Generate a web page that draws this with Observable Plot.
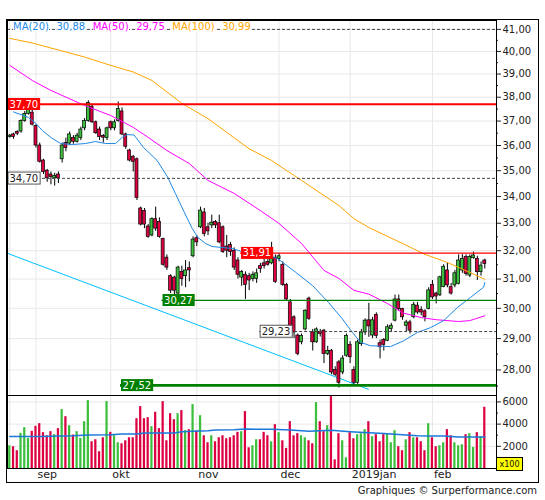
<!DOCTYPE html>
<html>
<head>
<meta charset="utf-8">
<script src="https://cdn.jsdelivr.net/npm/d3@7"></script>
<script src="https://cdn.jsdelivr.net/npm/@observablehq/plot@0.6"></script>
<style>
  html, body { margin: 0; padding: 0; background: #fff; }
  #chart { position: relative; width: 545px; height: 500px; overflow: hidden; background: #fff; font-family: "DejaVu Sans", sans-serif; }
  #chart > svg { position: absolute; left: 0; }
  #frame { position: absolute; left: 6px; top: 19px; width: 533px; height: 464px; border: 1px solid #000; box-sizing: border-box; pointer-events: none; }
  #legend { position: absolute; left: 13px; top: 21px; font-size: 10px; line-height: 12px; white-space: nowrap; }
  #legend span { background: #fff; margin-right: 7.5px; }
  #unit { position: absolute; left: 496px; top: 457px; width: 27px; height: 14px; box-sizing: border-box; background: #ffff00; border: 1px solid #000; font-family: "DejaVu Sans Condensed", "DejaVu Sans", sans-serif; font-size: 9px; line-height: 12px; text-align: center; color: #111; }
  #credit { position: absolute; right: 8px; top: 485px; font-size: 10px; line-height: 12px; color: #222; white-space: nowrap; }
</style>
</head>
<body>
<div id="chart"><div id="frame"></div></div>
<script>
// ---------- data ----------
const open = [
36.35,36.45,36.55,36.57,37.0,37.3,37.35,36.8,36.0,35.4,
35.0,34.85,34.7,34.85,35.45,36.1,36.08,36.3,36.15,36.3,
36.7,37.0,37.6,36.95,36.65,36.38,36.3,36.95,36.7,37.0,
37.4,36.45,35.8,35.55,35.45,33.55,33.45,32.88,32.55,33.15,
33.05,32.42,31.75,31.1,31.05,30.5,31.25,31.1,31.38,31.8,
32.45,32.85,33.4,32.85,32.92,33.05,33.0,32.85,32.15,32.2,
32.0,31.65,31.05,31.15,31.1,31.0,31.0,31.45,31.55,31.6,
31.55,31.75,31.7,31.5,30.8,30.2,29.7,29.1,28.88,29.3,
30.33,29.2,28.88,29.22,29.26,28.5,28.61,28.0,28.24,27.92,
28.45,28.8,28.0,27.6,28.82,29.2,29.6,29.1,29.78,28.85,
28.95,28.93,29.31,29.59,30.3,29.98,29.42,29.53,29.7,30.09,
29.95,29.9,29.98,30.8,30.5,30.44,30.72,31.3,30.72,30.78,
30.83,31.3,31.77,31.12,31.73,31.71,31.24,31.65];
const close = [
36.40,36.35,36.48,37.0,37.3,37.5,36.85,36.0,35.35,34.95,
34.7,34.75,34.8,34.7,36.0,35.9,36.45,36.15,36.4,36.65,
37.0,37.75,36.95,36.5,36.35,36.32,36.7,36.7,36.95,37.5,
36.45,35.95,35.4,35.35,33.95,32.95,32.95,32.5,33.15,32.8,
32.5,31.5,31.4,30.6,30.6,31.4,31.0,31.3,31.3,32.4,
32.3,33.47,32.6,32.7,33.02,32.92,32.3,31.95,32.0,31.95,
31.4,31.15,31.25,30.8,30.95,31.15,31.2,31.35,31.45,31.5,
31.7,30.9,31.8,30.8,30.3,29.25,29.2,28.5,29.09,29.92,
29.65,28.88,29.3,29.15,28.5,28.6,27.92,27.85,27.6,28.36,
29.09,28.4,27.6,28.88,29.2,29.59,29.4,29.6,29.09,28.72,
28.8,29.37,29.42,30.3,29.98,29.7,29.53,29.26,30.12,29.86,
29.86,29.7,30.61,30.37,30.4,31.06,31.43,30.78,30.5,31.2,
31.65,31.71,31.18,31.77,31.83,31.24,31.47,31.53];
const high = [
36.45,36.5,36.6,37.05,37.4,37.65,37.5,36.85,36.1,35.45,
35.05,34.95,34.9,34.95,36.1,36.3,36.55,36.4,36.5,36.75,
37.1,37.85,37.7,37.0,36.75,36.45,36.75,37.0,37.05,37.8,
37.55,36.5,35.85,35.6,35.5,33.6,33.55,32.95,33.2,33.6,
33.2,32.45,31.85,31.15,31.1,31.45,31.45,31.65,31.6,32.5,
32.55,33.6,33.55,33.0,33.3,33.1,33.3,32.9,32.55,32.3,
32.1,31.75,31.3,31.25,31.2,31.25,31.35,31.55,31.7,31.95,
32.3,31.85,31.9,31.6,30.85,30.3,29.75,29.15,29.15,29.95,
30.38,29.3,29.35,29.3,29.3,28.75,28.65,28.1,28.3,28.45,
29.15,28.9,28.1,28.95,29.3,29.65,30.17,29.7,29.85,28.95,
29.0,29.45,29.5,30.45,30.45,30.0,29.6,29.6,30.2,30.2,
30.05,29.95,30.7,30.95,30.55,31.1,31.5,31.55,30.85,31.3,
31.85,31.86,31.85,31.85,31.95,31.8,31.6,31.7];
const low = [
36.3,36.25,36.4,36.5,36.95,37.25,36.8,35.9,35.3,34.85,
34.55,34.45,34.4,34.5,35.3,35.75,36.0,36.05,36.1,36.2,
36.6,36.95,36.9,36.45,36.2,36.1,36.2,36.6,36.6,36.95,
36.4,35.85,35.35,34.95,33.85,32.9,32.8,32.45,32.5,32.7,
32.45,31.45,31.3,30.5,30.35,30.45,30.75,30.7,30.9,31.75,
32.15,32.8,32.5,32.55,32.8,32.8,32.25,31.9,31.75,31.8,
31.3,31.0,30.75,30.3,30.6,30.9,30.85,31.2,31.35,31.45,
31.5,30.85,31.6,30.75,30.25,29.2,29.0,28.45,28.8,29.25,
29.6,28.6,28.85,29.05,28.2,28.45,27.85,27.8,27.44,27.85,
28.4,28.2,27.55,27.55,28.75,29.1,29.04,29.0,29.0,28.35,
28.6,28.9,29.2,29.55,29.9,29.6,29.2,29.15,29.65,29.8,
29.75,29.55,29.95,30.3,30.15,30.4,30.7,30.7,30.45,30.7,
30.8,31.2,31.1,31.05,31.7,30.95,31.1,31.35];
const volume = [
2050,1960,1600,3170,3680,2710,3350,3800,4040,3230,
2950,3320,3050,3590,5310,4670,3860,3020,3320,2710,
4220,6120,2410,2590,1510,2770,6030,3260,2950,2320,
2230,2500,2770,2770,4490,5580,4490,4580,3770,5070,
3590,6030,2500,4940,4400,4940,5220,3410,3500,5760,
3380,4760,2950,2320,2950,2410,2770,2950,2680,2770,
2950,3260,3320,5130,1870,2050,2590,2590,3260,2950,
2410,3950,3230,2500,1810,4220,2950,3140,2950,2770,
2500,2230,5940,4220,3320,3860,6480,780,3140,2500,
960,3230,2680,3050,3140,3500,4220,2860,3050,2410,
3050,3140,2320,3410,1960,1600,2590,3230,2770,2770,
2410,1600,4040,2770,1960,2050,2320,3500,2950,2320,
2050,2140,3050,3140,1900,3230,2860,5520];

// moving averages: [trading-day index, value]
const ma20 = [[1,37.38],[5,37.15],[7,36.90],[8.7,36.61],[11.3,36.29],[13.6,36.08],[16.7,36.04],[20.2,36.08],[22.9,36.16],[25.6,36.08],[28.3,36.08],[30.1,36.34],[31.4,36.44],[33.2,36.43],[35.7,35.93],[39.4,35.40],[42.2,34.75],[44.3,34.11],[46.5,33.45],[48.8,32.80],[50.2,32.49],[52.3,32.26],[54.1,32.15],[59.5,32.08],[61.7,31.98],[66.2,31.95],[71.6,31.72],[76.4,31.24],[80.9,30.78],[85.2,30.20],[88.9,29.65],[91.6,29.20],[93.8,28.88],[96.4,28.77],[101.8,28.74],[105.3,28.93],[109,29.20],[112.5,29.36],[116,29.59],[119.7,30.03],[123.2,30.37],[126.7,30.72],[127,30.88]];
const ma50 = [[0,39.38],[6,38.72],[11,38.29],[20,37.65],[27,37.23],[33,36.74],[37,36.33],[42,35.80],[48,35.28],[53,34.62],[60,34.12],[67,33.47],[72,32.99],[78,32.26],[84,31.30],[88,31.02],[92,30.61],[96,30.48],[101,30.16],[105,29.85],[110,29.69],[114,29.62],[120,29.56],[123,29.59],[127,29.75]];
const ma100 = [[0,40.59],[6,40.38],[20,39.75],[27,39.38],[33,39.09],[38,38.72],[46,37.74],[53,37.10],[60,36.31],[64,35.87],[70,35.40],[78,34.62],[88,33.66],[92,33.17],[96,32.84],[105,32.26],[111,31.87],[117,31.58],[123,31.23],[127,30.99]];
const volumeMA = [[0,2890],[8,2890],[17,2950],[21,3010],[27,3045],[30,3100],[34,3100],[36,3195],[44,3195],[46,3320],[49,3350],[53,3410],[55,3470],[60,3500],[63,3560],[67,3530],[70,3530],[75,3470],[80,3350],[83,3410],[86,3440],[91,3320],[96,3230],[100,3165],[105,3045],[109,2955],[112,2925],[116,2925],[120,2835],[127,2835]];
const trendline = [[-0.7,31.91],[95.9,27.40]];

// price levels
const levelPrices = [41.0, 37.70, 34.70, 31.91, 30.27, 29.23, 27.52];
const levelLabels = [null, "37,70", "34,70", "31,91", "30,27", "29,23", "27,52"];
const levelStartDay = [-0.615, -0.615, -0.615, 61.7, 40.7, 66.8, 29.6];
const levelKinds = ["dash", "redThick", "dash", "red", "green", "dash", "greenThick"];

// axes
const monthTicks = [7, 27, 50, 72, 91, 113];
const monthLabels = ["sep", "okt", "nov", "dec", "2019jan", "feb"];
const gridDays = [0, 7, 27, 50, 72, 91, 113];
const priceTicks = [28,29,30,31,32,33,34,35,36,37,38,39,40,41];
const priceMinorTicks = [27.5,28.5,29.5,30.5,31.5,32.5,33.5,34.5,35.5,36.5,37.5,38.5,39.5,40.5];
const volumeTicks = [2000, 4000, 6000];
const volumeMinorTicks = [1000, 3000, 5000];
const legendTexts = ["MA(20)", "30,88", "MA(50)", "29,75", "MA(100)", "30,99"];

// ---------- styles ----------
const GREEN = "#3cbf3c", RED = "#dc0040";
const C20 = "#1e88e5", C50 = "#ff00ff", C100 = "#ffa500";
const legendColors = [C20, C20, C50, C50, C100, C100];
const kindStyle = {
  dash:       {stroke: "#444", width: 1, dash: "3,2", box: "#fff", boxStroke: "#555", text: "#222"},
  redThick:   {stroke: "#ff0000", width: 2, dash: null, box: "#ff0000", boxStroke: "none", text: "#fff"},
  red:        {stroke: "#ff0000", width: 1.2, dash: null, box: "#ff0000", boxStroke: "none", text: "#fff"},
  green:      {stroke: "#008000", width: 1.3, dash: null, box: "#008000", boxStroke: "none", text: "#fff"},
  greenThick: {stroke: "#008000", width: 2.6, dash: null, box: "#008000", boxStroke: "none", text: "#fff"}
};

const X_DOMAIN = [-0.615, 130.13];
const MINOR_TICK = 0.55; // 2px in day units
const bars = close.map((c, i) => ({i, o: open[i], h: high[i], l: low[i], c, v: volume[i]}));
const up = d => d.c >= d.o;
const fmtPrice = d => d.toFixed(2).replace(".", ",");
const baseStyle = {background: "none", fontFamily: "DejaVu Sans, sans-serif", fontSize: "10px", color: "#222", overflow: "visible"};

const levelMarks = [];
levelPrices.forEach((p, k) => {
  const s = kindStyle[levelKinds[k]];
  levelMarks.push(Plot.ruleY([p], {x1: levelStartDay[k], x2: X_DOMAIN[1], stroke: s.stroke, strokeWidth: s.width, strokeDasharray: s.dash}));
  if (levelLabels[k]) {
    levelMarks.push(Plot.text([p], {x: levelStartDay[k], y: d => d, text: () => levelLabels[k], textAnchor: "start", dx: 2, fill: s.text, fontSize: 10}));
  }
});

const pricePlot = Plot.plot({
  width: 545, height: 396,
  marginTop: 20, marginBottom: 1, marginLeft: 7, marginRight: 49,
  style: baseStyle,
  color: {type: "identity"},
  x: {domain: X_DOMAIN, axis: null, label: null},
  y: {type: "log", domain: [27.21, 41.41], axis: null, label: null},
  marks: [
    Plot.ruleY(priceTicks, {stroke: "#e8e8e8"}),
    Plot.ruleX(gridDays, {stroke: "#e8e8e8"}),
    Plot.line(trendline, {x: d => d[0], y: d => d[1], stroke: "#00bfff", strokeWidth: 1}),
    Plot.ruleX(bars, {x: "i", y1: "l", y2: "h", stroke: "#000", strokeWidth: 1}),
    Plot.rect(bars, {x1: d => d.i - 0.4, x2: d => d.i + 0.4,
      y1: d => Math.min(d.o, d.c), y2: d => Math.max(d.o, d.c),
      fill: d => up(d) ? GREEN : RED, stroke: "#000", strokeWidth: 0.7}),
    Plot.line(ma100, {x: d => d[0], y: d => d[1], stroke: C100, strokeWidth: 1}),
    Plot.line(ma50, {x: d => d[0], y: d => d[1], stroke: C50, strokeWidth: 1}),
    Plot.line(ma20, {x: d => d[0], y: d => d[1], stroke: C20, strokeWidth: 1}),
    ...levelMarks,
    Plot.axisY(priceTicks, {anchor: "right", label: null, tickSize: 4, tickPadding: 2, tickFormat: fmtPrice}),
    Plot.ruleY(priceMinorTicks, {x1: X_DOMAIN[1], x2: X_DOMAIN[1] + MINOR_TICK, stroke: "#222"}),
    Plot.frame({stroke: "#000"})
  ]
});

const monthLabelOf = new Map(monthTicks.map((d, i) => [d, monthLabels[i]]));
const volPlot = Plot.plot({
  width: 545, height: 106,
  marginTop: 1, marginBottom: 32, marginLeft: 7, marginRight: 49,
  style: baseStyle,
  color: {type: "identity"},
  x: {domain: X_DOMAIN, axis: null, label: null},
  y: {domain: [0, 6580], axis: null, label: null},
  marks: [
    Plot.ruleY(volumeTicks, {stroke: "#e8e8e8"}),
    Plot.ruleX(gridDays, {stroke: "#e8e8e8"}),
    Plot.rect(bars, {x1: d => d.i - 0.3, x2: d => d.i + 0.3, y1: 0, y2: "v", fill: d => up(d) ? GREEN : RED}),
    Plot.line(volumeMA, {x: d => d[0], y: d => d[1], stroke: "#1a78d8", strokeWidth: 1.5}),
    Plot.axisY(volumeTicks, {anchor: "right", label: null, tickSize: 4, tickPadding: 2, tickFormat: d => String(d)}),
    Plot.ruleY(volumeMinorTicks, {x1: X_DOMAIN[1], x2: X_DOMAIN[1] + MINOR_TICK, stroke: "#222"}),
    Plot.axisX(monthTicks, {anchor: "bottom", label: null, tickSize: 0, tickPadding: 2, textAnchor: "start", dx: 1.5, fontSize: 11, tickFormat: d => monthLabelOf.get(d)}),
    Plot.frame({stroke: "#000"})
  ]
});

const chart = document.getElementById("chart");
const frameDiv = document.getElementById("frame");
pricePlot.style.top = "0px";
volPlot.style.top = "394px";
chart.insertBefore(pricePlot, frameDiv);
chart.insertBefore(volPlot, frameDiv);

// boxes behind level labels
const NS = "http://www.w3.org/2000/svg";
levelLabels.forEach((lab, k) => {
  if (!lab) return;
  const t = Array.from(pricePlot.querySelectorAll("text")).find(e => e.textContent === lab);
  if (!t) return;
  const s = kindStyle[levelKinds[k]];
  const b = t.getBBox();
  const r = document.createElementNS(NS, "rect");
  r.setAttribute("x", b.x - 1.5);
  r.setAttribute("y", b.y - 0.5);
  r.setAttribute("width", b.width + 3.5);
  r.setAttribute("height", b.height + 1);
  r.setAttribute("fill", s.box);
  r.setAttribute("stroke", s.boxStroke);
  if (t.getAttribute("transform")) r.setAttribute("transform", t.getAttribute("transform"));
  t.parentNode.insertBefore(r, t);
});

// legend
const legend = document.createElement("div");
legend.id = "legend";
legendTexts.forEach((txt, i) => {
  const sp = document.createElement("span");
  sp.textContent = txt;
  sp.style.color = legendColors[i];
  if (i === legendTexts.length - 1) sp.style.marginRight = "0";
  legend.appendChild(sp);
});
chart.appendChild(legend);

const unit = document.createElement("div");
unit.id = "unit"; unit.textContent = "x100";
chart.appendChild(unit);

const credit = document.createElement("div");
credit.id = "credit"; credit.textContent = "Graphiques © Surperformance.com";
chart.appendChild(credit);
</script>
</body>
</html>
